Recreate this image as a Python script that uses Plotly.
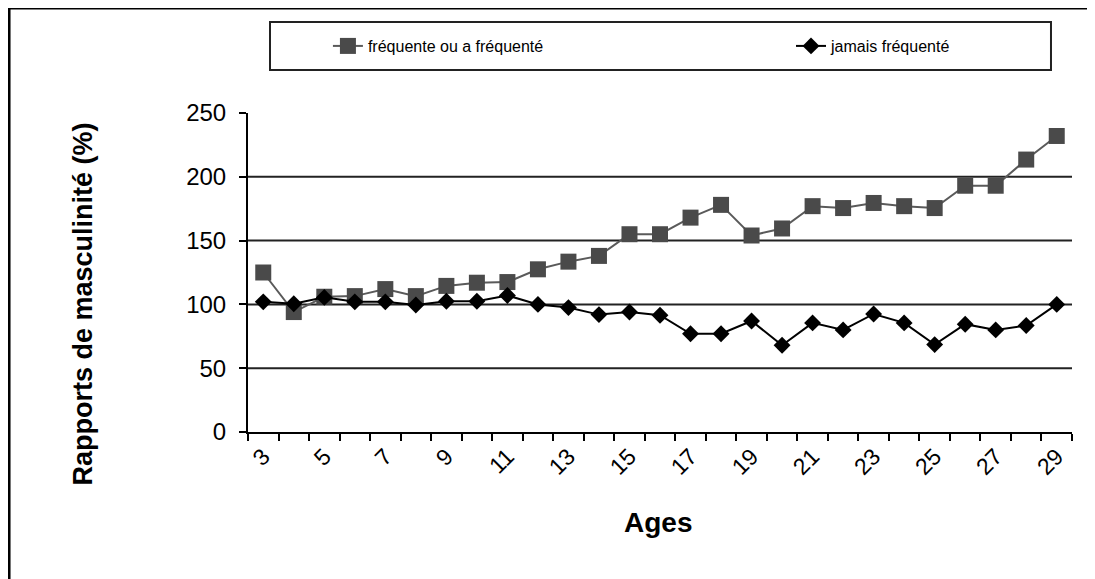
import plotly.graph_objects as go

# ==========================
# DATA
# ==========================
ages = list(range(3, 30))
age_labels = list(range(3, 30, 2))

frequente = [125, 94, 106, 106.5, 112, 106.5, 114.5, 117, 117.5, 127.5,
             133.5, 138, 155, 155, 168, 178, 154, 159.5, 177, 175.5,
             179.5, 177, 175.5, 193, 193, 213.5, 232]
jamais = [102, 100.5, 105.5, 102, 102, 99.5, 102.5, 102.5, 107, 100,
          97.5, 92, 94, 91.5, 77, 77, 87, 68, 85.5, 80,
          92.5, 85.5, 68.5, 84.5, 80, 83.5, 100]

y_ticks = [0, 50, 100, 150, 200, 250]
grid_values = [50, 100, 150, 200]

FONT = "Liberation Sans, Arial, sans-serif"

# ==========================
# FIGURE
# ==========================
fig = go.Figure()
fig.add_trace(go.Scatter(
    x=ages, y=frequente, mode="lines+markers", name="fréquente ou a fréquenté",
    line=dict(color="#5a5a5a", width=2),
    marker=dict(symbol="square", size=16, color="#4a4a4a"),
    legend="legend",
))
fig.add_trace(go.Scatter(
    x=ages, y=jamais, mode="lines+markers", name="jamais fréquenté",
    line=dict(color="black", width=2),
    marker=dict(symbol="diamond", size=13, color="black"),
    legend="legend2",
))

# horizontal grid lines (no line at 250)
for v in grid_values:
    fig.add_shape(type="line", xref="paper", yref="y", x0=0, x1=1, y0=v, y1=v,
                  line=dict(color="#222", width=2), layer="below")

# legend box
fig.add_shape(type="rect", xref="paper", yref="paper",
              x0=0.0267, x1=0.9745, y0=1.135, y1=1.285,
              line=dict(color="#222", width=2))

# outer frame (top + left only, the rest is cropped)
fig.add_shape(type="line", xref="paper", yref="paper", x0=-0.29, x1=1.1,
              y0=1.329, y1=1.329, line=dict(color="black", width=3))
fig.add_shape(type="line", xref="paper", yref="paper", x0=-0.29, x1=-0.29,
              y0=-0.5, y1=1.329, line=dict(color="black", width=3))

# axis titles
fig.add_annotation(text="<b>Rapports de masculinité (%)</b>", textangle=-90,
                   xref="paper", yref="paper", x=-0.200, y=0.40,
                   xanchor="center", yanchor="middle",
                   showarrow=False, font=dict(size=27, color="black", family=FONT))
fig.add_annotation(text="<b>Ages</b>", xref="paper", yref="paper",
                   x=0.498, y=-0.285, xanchor="center", yanchor="middle",
                   showarrow=False, font=dict(size=28, color="black", family=FONT))

legend_common = dict(orientation="h", y=1.21, xanchor="left", yanchor="middle",
                     font=dict(size=16, color="black", family=FONT),
                     bgcolor="rgba(0,0,0,0)", borderwidth=0)

# page body adds an 8px offset, so margins are shifted by 8px
fig.update_layout(
    width=1095, height=579,
    margin=dict(l=240, r=31, t=105, b=155, autoexpand=False),
    paper_bgcolor="white", plot_bgcolor="white",
    font=dict(family=FONT, color="black"),
    showlegend=True,
    legend=dict(x=0.097, **legend_common),
    legend2=dict(x=0.659, **legend_common),
    xaxis=dict(
        range=[2.5, 29.5], tickvals=age_labels, ticktext=[str(a) for a in age_labels],
        tickangle=-45, ticks="", showgrid=False, zeroline=False,
        showline=True, linecolor="black", linewidth=2,
        tickfont=dict(size=23, color="black"),
        minor=dict(ticks="outside", tick0=2.5, dtick=1, ticklen=7,
                   tickcolor="black", tickwidth=2, showgrid=False),
    ),
    yaxis=dict(
        range=[0, 250], tickvals=y_ticks, showgrid=False, zeroline=False,
        showline=True, linecolor="black", linewidth=2,
        ticks="outside", ticklen=7, tickwidth=2, tickcolor="black",
        ticklabelstandoff=8,
        tickfont=dict(size=24, color="black"),
    ),
)

fig.write_html("out.html")
